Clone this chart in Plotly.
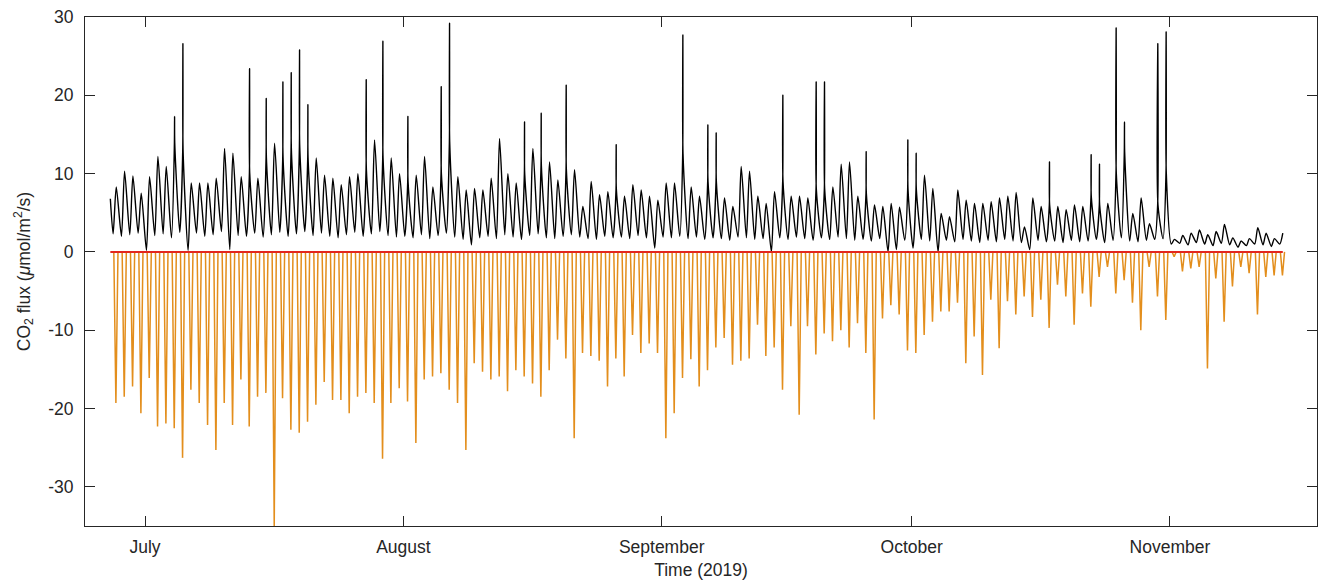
import pandas as pd
import plotly.graph_objects as go

# ---------------- data ----------------
first_day = "2019-06-27"          # first day of daily values
start_value = 6.8                 # respiration value at start of record (Jun 26 evening)

# daytime hump peak of respiration (black), one per day
resp_peak = [
    8.3, 10.3, 9.7, 7.5, 9.6, 12.2, 10.9, 13.9, 13.0, 8.8,
    8.8, 8.8, 9.4, 13.2, 12.6, 9.6, 10.0, 9.4, 12.0, 13.9,
    12.0, 13.0, 13.5, 12.0, 12.0, 9.8, 9.4, 8.6, 9.6, 10.0,
    10.5, 14.3, 12.0, 12.0, 10.0, 9.0, 9.8, 12.2, 8.3, 10.0,
    14.0, 9.6, 7.9, 8.1, 7.9, 9.4, 14.5, 10.0, 8.8, 10.0,
    13.2, 11.0, 11.5, 9.2, 10.5, 10.5, 5.8, 9.0, 7.3, 7.7,
    8.0, 7.1, 8.6, 7.9, 7.1, 6.6, 8.8, 8.8, 12.5, 8.3,
    7.1, 9.0, 9.0, 6.9, 5.8, 10.9, 10.3, 7.1, 6.2, 7.7,
    9.0, 7.1, 7.1, 6.9, 8.0, 8.0, 8.3, 11.2, 11.5, 7.1,
    7.5, 6.0, 5.8, 6.2, 5.7, 8.0, 8.0, 9.8, 8.1, 4.9,
    4.5, 7.9, 6.6, 6.2, 6.2, 6.4, 6.9, 7.1, 7.6, 3.2,
    6.9, 5.8, 6.0, 5.8, 5.4, 6.0, 5.8, 7.0, 6.0, 6.2,
    10.0, 12.8, 4.9, 6.9, 3.6, 6.0, 10.0, 1.6, 2.1, 2.4,
    2.8, 2.2, 2.6, 3.5, 1.8, 1.4, 1.7, 3.1, 2.4, 1.7,
    2.4,
]

# night-time minimum of respiration (black), one per day
resp_night = [
    2.3, 2.0, 2.2, 2.4, 0.2, 2.1, 2.3, 1.8, 2.5, 0.2,
    2.4, 2.0, 2.2, 2.6, 0.3, 2.1, 2.0, 2.4, 1.9, 2.2,
    2.5, 2.0, 2.3, 2.6, 2.1, 2.4, 2.0, 1.8, 2.2, 2.5,
    2.0, 2.3, 2.6, 2.1, 1.9,
    2.0, 1.8, 2.2, 1.7, 2.1, 2.4, 1.9, 1.6, 0.9, 1.8,
    2.0, 1.7, 2.2, 1.9, 1.6, 2.1, 2.3, 1.8, 1.7, 2.0,
    2.2, 1.9, 1.7, 1.6, 2.0, 1.8, 1.9, 1.7, 2.1, 1.8,
    0.5,
    1.9, 1.8, 2.0, 1.7, 1.9, 1.6, 1.8, 1.7, 1.5, 1.9,
    1.8, 1.6, 1.7, 0.0, 1.8, 1.6, 1.9, 1.7, 1.5, 1.8,
    1.6, 1.9, 1.7, 1.5, 1.6, 1.4, 1.7, 0.0, 0.3, 1.5,
    0.5, 1.6, 1.4, 0.0, 1.5, 1.3, 1.6, 1.4, 1.2, 1.5,
    1.3, 1.6, 1.4, 1.2, 0.3, 1.5, 1.3, 1.4, 1.2, 1.5,
    1.3, 1.4, 1.6, 1.2, 1.5, 1.8, 1.4, 1.3, 1.5, 1.6,
    1.7,
    1.0, 1.1, 0.9, 1.2, 1.0, 0.8, 1.1, 0.9, 0.6, 0.8,
    1.0, 0.9, 0.7, 1.0,
]

# short respiration spikes (day index, value)
spike_days = [7, 8, 16, 18, 20, 21, 22, 23, 30, 32, 35, 39, 40, 49, 51, 54,
              60, 68, 71, 72, 80, 84, 85, 90, 95, 96, 112, 117, 118, 120,
              121, 125, 126]
spike_values = [17.3, 26.6, 23.4, 19.6, 21.7, 22.9, 25.8, 18.8, 22.0, 26.9,
                17.3, 21.1, 29.2, 16.6, 17.7, 21.3, 13.7, 27.7, 16.2, 15.2,
                20.0, 21.7, 21.7, 12.8, 14.3, 12.6, 11.5, 12.4, 11.2, 28.6,
                16.6, 26.6, 28.1]

# midday minimum of uptake (orange), one per day
uptake_min = [
    -19.3, -18.5, -17.2, -20.6, -16.1, -22.3, -21.9, -22.5, -26.3, -17.6,
    -19.3, -22.1, -25.3, -19.3, -22.1, -16.3, -22.3, -18.5, -18.0, -35.0,
    -18.7, -22.7, -23.1,
    -21.7, -19.5, -16.6, -18.9, -18.9, -20.6, -18.5, -18.0, -19.3, -26.4,
    -19.3, -17.4, -19.1, -24.4, -16.3, -15.9, -15.5, -17.6, -19.3, -25.3,
    -14.2, -15.3, -16.3, -15.9, -17.8,
    -15.1, -15.9, -16.8, -18.5, -15.1, -11.2, -13.6, -23.8, -12.9, -13.3,
    -13.9, -17.2, -13.6, -15.9, -10.6, -12.9, -11.7, -12.9, -23.8, -20.6,
    -16.1, -13.7, -17.2, -15.1, -12.2, -11.0,
    -14.4, -13.9, -13.6, -9.3, -13.3, -12.2, -17.6, -9.5, -20.8, -9.5,
    -13.1, -10.4, -11.4, -10.0, -12.2, -9.1, -12.9, -21.4, -8.5, -6.8,
    -8.0, -12.6, -12.9, -10.6,
    -8.9, -7.6, -7.6, -6.5, -14.2, -10.8, -15.7, -6.1, -12.3, -6.3,
    -8.0, -5.7, -8.3, -6.1, -9.7, -4.2, -5.7, -9.3, -5.3, -7.0,
    -3.2, -1.9,
    -5.3, -3.6, -6.5, -10.0, -1.9, -5.7, -8.7, -0.6, -2.5, -2.1,
    -1.9, -14.9, -3.4, -8.9, -4.4, -1.9, -2.7, -8.0, -3.2, -3.0,
    -3.0,
]

month_ticks = ["2019-07-01", "2019-08-01", "2019-09-01", "2019-10-01", "2019-11-01"]
month_labels = ["July", "August", "September", "October", "November"]
y_ticks = [-30, -20, -10, 0, 10, 20, 30]
y_labels = ["-30", "-20", "-10", "0", "10", "20", "30"]

# ---------------- build series ----------------
days = pd.date_range(first_day, periods=len(resp_peak), freq="D")
H = pd.Timedelta(hours=1)
spikes = dict(zip(spike_days, spike_values))

bx = [days[0] - 4 * H]
by = [start_value]
for i, d in enumerate(days):
    bx.append(d + 4 * H)
    by.append(resp_night[i])
    if i in spikes:
        bx += [d + 12.5 * H, d + 13 * H, d + 13.5 * H]
        by += [resp_peak[i], spikes[i], resp_peak[i]]
    else:
        bx.append(d + 13 * H)
        by.append(resp_peak[i])

ox, oy = [], []
for i, d in enumerate(days):
    ox += [d + 6 * H, d + 12 * H, d + 18 * H]
    oy += [0, uptake_min[i], 0]

fig = go.Figure()
fig.add_trace(go.Scatter(x=bx, y=by, mode="lines",
                         line=dict(color="#000000", width=1.4, shape="spline", smoothing=0.7),
                         showlegend=False))
fig.add_trace(go.Scatter(x=ox, y=oy, mode="lines",
                         line=dict(color="#E38E1C", width=1.5), showlegend=False))
fig.add_trace(go.Scatter(x=[bx[0], bx[-1]], y=[0, 0], mode="lines",
                         line=dict(color="#E2261E", width=2), showlegend=False))

fs = 17.5
# the page body adds an 8 px offset on each side, so the figure is sized 1312x572
fig.update_layout(
    width=1312, height=572,
    margin=dict(l=77, r=3, t=9, b=54),
    paper_bgcolor="white", plot_bgcolor="white",
    font=dict(family="Liberation Sans, Arial, sans-serif", size=fs, color="#262626"),
    xaxis=dict(
        range=["2019-06-23 19:00", "2019-11-18 15:30"],
        tickvals=month_ticks, ticktext=month_labels,
        ticks="inside", ticklen=10, tickcolor="#262626",
        showline=True, linecolor="#262626", linewidth=1, mirror="ticks",
        showgrid=False, zeroline=False, automargin=False,
        ticklabelstandoff=5, ticklabeloverflow="allow",
        title=dict(text="Time (2019)", font=dict(size=fs), standoff=14),
        tickfont=dict(size=fs),
    ),
    yaxis=dict(
        range=[-35, 30],
        tickvals=y_ticks, ticktext=y_labels,
        ticks="inside", ticklen=10, tickcolor="#262626",
        showline=True, linecolor="#262626", linewidth=1, mirror="ticks",
        showgrid=False, zeroline=False, automargin=False,
        ticklabelstandoff=7, ticklabeloverflow="allow",
        title=dict(text="CO<sub>2</sub> flux (<i>μ</i>mol/m<sup>2</sup>/s)",
                   font=dict(size=fs), standoff=13),
        tickfont=dict(size=fs),
    ),
)

fig.write_html("out.html")
